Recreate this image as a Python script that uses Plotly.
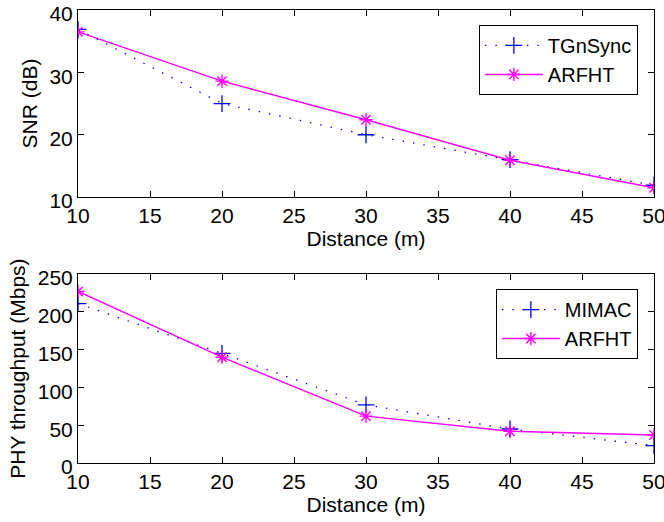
import plotly.graph_objects as go

# Distances shared by both panels
distance = [10, 20, 30, 40, 50]

# Upper panel: SNR (dB)
snr_tgnsync = [36.9, 25.0, 20.0, 16.0, 11.9]
snr_arfht = [36.5, 28.6, 22.4, 15.9, 11.5]

# Lower panel: PHY throughput (Mbps)
thr_mimac = [211, 145, 77, 45, 23]
thr_arfht = [227, 140, 62, 42, 37]

x_ticks = [10, 15, 20, 25, 30, 35, 40, 45, 50]
snr_ticks = [10, 20, 30, 40]
thr_ticks = [0, 50, 100, 150, 200, 250]

BLUE = "#0000FF"
MAGENTA = "#FF00FF"
FONT = "Liberation Sans, Arial, sans-serif"
FS = 21

fig = go.Figure()

dotted = dict(color=BLUE, width=1.3, dash="1.5px,9px")
solid = dict(color=MAGENTA, width=1.4)
plus = dict(symbol="cross-thin-open", size=12, line=dict(color=BLUE, width=1.3))
star = dict(symbol="asterisk-open", size=11, line=dict(color=MAGENTA, width=1.4))

fig.add_trace(go.Scatter(x=distance, y=snr_tgnsync, name="TGnSync", mode="lines+markers",
                         line=dotted, marker=plus, xaxis="x", yaxis="y", legend="legend"))
fig.add_trace(go.Scatter(x=distance, y=snr_arfht, name="ARFHT", mode="lines+markers",
                         line=solid, marker=star, xaxis="x", yaxis="y", legend="legend"))
fig.add_trace(go.Scatter(x=distance, y=thr_mimac, name="MIMAC", mode="lines+markers",
                         line=dotted, marker=plus, xaxis="x2", yaxis="y2", legend="legend2"))
fig.add_trace(go.Scatter(x=distance, y=thr_arfht, name="ARFHT", mode="lines+markers",
                         line=solid, marker=star, xaxis="x2", yaxis="y2", legend="legend2"))

axis_common = dict(
    showline=True, linecolor="black", linewidth=1, mirror="ticks",
    ticks="inside", ticklen=6, tickcolor="black", tickwidth=1,
    showgrid=False, zeroline=False, ticklabeloverflow="allow", automargin=False,
    tickfont=dict(family=FONT, size=FS, color="black"),
)

legend_common = dict(
    bgcolor="white", bordercolor="black", borderwidth=1,
    font=dict(family=FONT, size=20, color="black"),
    xanchor="right", yanchor="top", tracegroupgap=0, itemwidth=58,
)

fig.update_layout(
    width=664, height=522,
    margin=dict(l=78, r=10, t=10, b=59, autoexpand=False),
    paper_bgcolor="white", plot_bgcolor="white",
    font=dict(family=FONT, size=FS, color="black"),
    xaxis=dict(domain=[0, 1], anchor="y", range=[10, 50], tickvals=x_ticks,
               title=dict(text="Distance (m)", standoff=2, font=dict(size=FS)), **axis_common),
    yaxis=dict(domain=[0.587, 1], anchor="x", range=[10, 40], tickvals=snr_ticks,
               ticklabelshift=4,
               title=dict(text="SNR (dB)", standoff=6, font=dict(size=FS)), **axis_common),
    xaxis2=dict(domain=[0, 1], anchor="y2", range=[10, 50], tickvals=x_ticks,
                title=dict(text="Distance (m)", standoff=2, font=dict(size=FS)), **axis_common),
    yaxis2=dict(domain=[0, 0.417], anchor="x2", range=[0, 250], tickvals=thr_ticks,
                ticklabelshift=4,
                title=dict(text="PHY throughput (Mbps)", standoff=6, font=dict(size=FS)), **axis_common),
    legend=dict(x=0.972, y=0.967, **legend_common),
    legend2=dict(x=0.972, y=0.384, **legend_common),
    showlegend=True,
)

fig.write_html("out.html")
